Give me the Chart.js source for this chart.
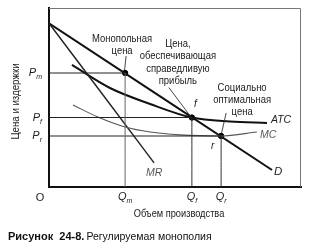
<!DOCTYPE html>
<html>
<head>
<meta charset="utf-8">
<script src="https://cdn.jsdelivr.net/npm/chart.js@4.4.0/dist/chart.umd.min.js"></script>
<style>
html,body{margin:0;padding:0;background:#fff;}
#wrap{width:312px;height:247px;position:relative;}
canvas{display:block;}
</style>
</head>
<body>
<div id="wrap"><canvas id="c" width="312" height="247"></canvas></div>
<script>
// ---- data (units: 0..100 on both axes) ----
const subscripts = ['m', 'f', 'r'];           // Q_m, Q_f, Q_r / P_m, P_f, P_r
const quantities = [30.2, 56.7, 68.3];        // Qm, Qf, Qr
const prices     = [63.7, 38.8, 28.5];        // Pm, Pf, Pr
const demandQ = [0, 88.5];
const demandP = [91.5, 9.5];
const mrQ = [0, 41.7];
const mrP = [91.5, 13.5];
const atcQ = [9.1, 24.2, 40.1, 56.7, 71.8, 86.5];
const atcP = [68.2, 55.3, 46.4, 38.8, 36.6, 35.8];
const mcQ = [9.5, 19.4, 30.2, 40.1, 52.0, 68.3, 82.5];
const mcP = [45.8, 39.1, 33.5, 30.7, 29.1, 28.5, 30.7];
const yTitle = 'Цена и издержки';
const xTitle = 'Объем производства';
const captionBold = 'Рисунок  24-8.';
const captionText = 'Регулируемая монополия';
const notes = {
  mono: ['Монопольная', 'цена'],
  fair: ['Цена,', 'обеспечивающая', 'справедливую', 'прибыль'],
  social: ['Социально', 'оптимальная', 'цена']
};

const pts = (xs, ys) => xs.map((x, i) => ({x, y: ys[i]}));

const datasets = [];
// guide lines
quantities.forEach((q, i) => {
  datasets.push({data: [{x: 0, y: prices[i]}, {x: q, y: prices[i]}], borderColor: '#222', borderWidth: 1.1, pointRadius: 0, showLine: true});
  datasets.push({data: [{x: q, y: prices[i]}, {x: q, y: 0}], borderColor: i === 0 ? '#666' : '#333', borderWidth: 1, pointRadius: 0, showLine: true});
});
datasets.push({label: 'MC', data: pts(mcQ, mcP), borderColor: '#555', borderWidth: 1.1, pointRadius: 0, showLine: true, cubicInterpolationMode: 'monotone'});
datasets.push({label: 'MR', data: pts(mrQ, mrP), borderColor: '#222', borderWidth: 1.4, pointRadius: 0, showLine: true});
datasets.push({label: 'ATC', data: pts(atcQ, atcP), borderColor: '#111', borderWidth: 2, pointRadius: 0, showLine: true, cubicInterpolationMode: 'monotone'});
datasets.push({label: 'D', data: pts(demandQ, demandP), borderColor: '#111', borderWidth: 2, pointRadius: 0, showLine: true});
datasets.push({label: 'pts', data: pts(quantities, prices), borderColor: '#000', backgroundColor: '#000', pointRadius: 2.7, showLine: false});

const FONT = '"Liberation Sans", Arial, sans-serif';

function narrowText(ctx, s, x, y, size, align, scale) {
  ctx.save();
  ctx.font = size + 'px ' + FONT;
  ctx.textAlign = align;
  ctx.textBaseline = 'middle';
  ctx.translate(x, y);
  ctx.scale(scale, 1);
  ctx.fillText(s, 0, 0);
  ctx.restore();
}

function subLabel(ctx, main, sub, x, y, align, color) {
  ctx.save();
  ctx.fillStyle = color || '#222';
  ctx.textBaseline = 'middle';
  ctx.font = 'italic 11px ' + FONT;
  const wm = ctx.measureText(main).width;
  ctx.font = 'italic 7px ' + FONT;
  const ws = ctx.measureText(sub).width;
  const total = wm + ws;
  let x0 = align === 'right' ? x - total : (align === 'center' ? x - total / 2 : x);
  ctx.textAlign = 'left';
  ctx.font = 'italic 11px ' + FONT;
  ctx.fillText(main, x0, y);
  ctx.font = 'italic 7px ' + FONT;
  ctx.fillText(sub, x0 + wm, y + 4);
  ctx.restore();
}

const decor = {
  id: 'decor',
  afterDatasetsDraw(chart) {
    const {ctx, chartArea: a, scales: {x, y}} = chart;
    ctx.save();
    // thin frame top/right
    ctx.strokeStyle = '#777';
    ctx.lineWidth = 1;
    ctx.beginPath();
    ctx.moveTo(a.left, a.top + 0.5); ctx.lineTo(a.right - 0.5, a.top + 0.5); ctx.lineTo(a.right - 0.5, a.bottom);
    ctx.stroke();

    ctx.fillStyle = '#222';
    // price labels
    prices.forEach((p, i) => subLabel(ctx, 'P', subscripts[i], a.left - 7, y.getPixelForValue(p), 'right'));
    // quantity labels
    quantities.forEach((q, i) => subLabel(ctx, 'Q', subscripts[i], x.getPixelForValue(q), a.bottom + 10, 'center'));
    ctx.font = '11px ' + FONT; ctx.textAlign = 'center'; ctx.textBaseline = 'middle';
    ctx.fillText('O', a.left - 9, a.bottom + 11);

    // curve labels
    const endPx = (qs, ps) => ({px: x.getPixelForValue(qs[qs.length - 1]), py: y.getPixelForValue(ps[ps.length - 1])});
    ctx.textAlign = 'left';
    let e = endPx(mrQ, mrP); ctx.fillStyle = '#555'; ctx.font = 'italic 10.5px ' + FONT; ctx.fillText('MR', e.px - 8, e.py + 10);
    e = endPx(mcQ, mcP); ctx.fillText('MC', e.px + 3, e.py + 3);
    ctx.fillStyle = '#222';
    e = endPx(atcQ, atcP); ctx.fillText('ATC', e.px + 4, e.py - 3);
    ctx.font = 'italic 11.5px ' + FONT;
    e = endPx(demandQ, demandP); ctx.fillText('D', e.px + 2, e.py + 2);

    // points f and r
    const P = i => ({px: x.getPixelForValue(quantities[i]), py: y.getPixelForValue(prices[i])});
    const m = P(0), f = P(1), r = P(2);
    ctx.font = 'italic 10px ' + FONT;
    ctx.fillText('f', f.px + 2, f.py - 13);
    ctx.fillText('r', r.px - 10, r.py + 10);

    // pointer lines
    ctx.strokeStyle = '#333'; ctx.lineWidth = 0.9;
    ctx.beginPath();
    ctx.moveTo(m.px + 1, m.py - 17); ctx.lineTo(m.px - 0.5, m.py - 3);
    ctx.moveTo(f.px - 23, f.py - 30); ctx.lineTo(f.px - 2, f.py - 2);
    ctx.moveTo(r.px + 5, r.py - 23); ctx.lineTo(r.px + 0.5, r.py - 3);
    ctx.stroke();

    // annotation texts
    ctx.fillStyle = '#1a1a1a';
    notes.mono.forEach((s, i) => narrowText(ctx, s, m.px - 3, m.py - 34 + i * 12, 11, 'center', 0.86));
    notes.fair.forEach((s, i) => narrowText(ctx, s, f.px - 14, f.py - 74 + i * 12.5, 11, 'center', 0.86));
    notes.social.forEach((s, i) => narrowText(ctx, s, r.px + 21, r.py - 48 + i * 12, 11, 'center', 0.86));

    // axis titles
    narrowText(ctx, xTitle, (a.left + a.right) / 2 + 4, a.bottom + 27, 10.5, 'center', 0.88);
    ctx.save();
    ctx.translate(16, (a.top + a.bottom) / 2 + 4);
    ctx.rotate(-Math.PI / 2);
    narrowText(ctx, yTitle, 0, 0, 10.5, 'center', 0.92);
    ctx.restore();

    // caption
    ctx.font = 'bold 11px ' + FONT; ctx.textAlign = 'left'; ctx.textBaseline = 'middle';
    ctx.fillStyle = '#111';
    ctx.fillText(captionBold, 8, 237);
    const wb = ctx.measureText(captionBold).width;
    ctx.font = '10.5px ' + FONT;
    ctx.fillText(captionText, 8 + wb + 2, 237);
    ctx.restore();
  }
};

new Chart(document.getElementById('c'), {
  type: 'scatter',
  data: {datasets},
  options: {
    responsive: false,
    animation: false,
    devicePixelRatio: 1,
    layout: {padding: {left: 49, right: 11, top: 8, bottom: 60}},
    plugins: {legend: {display: false}, tooltip: {enabled: false}, title: {display: false}},
    elements: {line: {tension: 0.4}},
    scales: {
      x: {type: 'linear', min: 0, max: 100, grid: {display: false, drawTicks: false}, ticks: {display: false}, border: {display: true, color: '#111', width: 2}},
      y: {type: 'linear', min: 0, max: 100, grid: {display: false, drawTicks: false}, ticks: {display: false}, border: {display: true, color: '#111', width: 2}}
    }
  },
  plugins: [decor]
});
</script>
</body>
</html>
